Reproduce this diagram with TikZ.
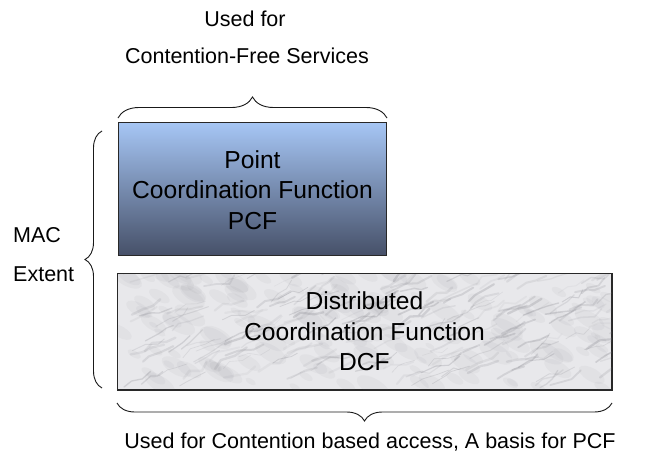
\documentclass[tikz,border=0pt]{standalone}
\usepackage{fontspec}
\setmainfont{Liberation Sans}
\usetikzlibrary{decorations.pathreplacing}
\definecolor{pcftop}{RGB}{166,198,245}
\definecolor{pcfbot}{RGB}{70,80,104}
\definecolor{edge}{RGB}{40,40,40}
\definecolor{marble}{RGB}{232,232,235}
\definecolor{vein}{RGB}{120,120,128}
\begin{document}
\begin{tikzpicture}[x=1pt,y=-1pt,
  txt/.style={font=\fontsize{21.5}{30.5}\selectfont, align=center, inner sep=0pt},
  boxtxt/.style={font=\fontsize{24.6}{30.5}\selectfont, align=center, inner sep=0pt},
  boxbase/.style={draw=edge, line width=1pt, inner sep=0pt, anchor=north west},
  pcfbox/.style={boxbase, top color=pcftop, bottom color=pcfbot},
  dcfbox/.style={boxbase, fill=marble},
  curly/.style={decorate, decoration={brace, amplitude=#1}, draw=black!90, line width=0.9pt},
]
\useasboundingbox (0,0) rectangle (645,455);
\fill[white] (0,0) rectangle (645,455);

% the two coordination function layers
\node[pcfbox, minimum width=268pt, minimum height=133pt] (pcf) at (118,122) {};
\node[dcfbox, minimum width=494pt, minimum height=116pt] (dcf) at (117,273) {};

% marble texture of the DCF layer
\begin{scope}
  \clip (dcf.south west) rectangle (dcf.north east);
  \pgfmathsetseed{42}
  \foreach \k in {1,...,160}{
    \pgfmathsetmacro{\px}{117+rnd*494}
    \pgfmathsetmacro{\py}{273+rnd*116}
    \pgfmathsetmacro{\rr}{5+rnd*14}
    \fill[vein, opacity=0.06, rotate around={-30:(\px,\py)}] (\px,\py) ellipse [x radius=\rr pt, y radius=0.45*\rr pt];
  }
  \foreach \k in {1,...,200}{
    \pgfmathsetmacro{\px}{117+rnd*494}
    \pgfmathsetmacro{\py}{273+rnd*116}
    \pgfmathsetmacro{\ax}{5+rnd*10}
    \pgfmathsetmacro{\ay}{-(2+rnd*7)}
    \pgfmathsetmacro{\bx}{5+rnd*10}
    \pgfmathsetmacro{\by}{-(rnd*8)+2}
    \pgfmathsetmacro{\cx}{4+rnd*10}
    \pgfmathsetmacro{\cy}{-(2+rnd*7)}
    \pgfmathsetmacro{\op}{0.06+rnd*0.18}
    \pgfmathsetmacro{\lw}{0.6+rnd*1.8}
    \draw[vein, opacity=\op, line width=\lw pt, line cap=round, line join=round]
      (\px,\py) -- ++(\ax,\ay) -- ++(\bx,\by) -- ++(\cx,\cy);
  }
\end{scope}
\draw[edge, line width=1pt] (dcf.south west) rectangle (dcf.north east);

% layer captions
\node[boxtxt] (pcftext) at ([yshift=-1pt]pcf.center) {Point\\Coordination Function\\PCF};
\node[boxtxt] (dcftext) at (dcf.center) {Distributed\\Coordination Function\\DCF};

% top brace and its note
\draw[curly=21pt] ([yshift=4pt]pcf.north west) -- ([yshift=4pt]pcf.north east);
\node[txt, anchor=base] (cfuse1) at (245,27) {Used for};
\node[txt, anchor=base] (cfuse2) at (247,63) {Contention-Free Services};

% left brace: MAC extent
\coordinate (lbbot) at (102,388);
\coordinate (lbtop) at (102,131);
\draw[curly=17pt] (lbbot) -- (lbtop);
\node[txt, anchor=base west] (mac) at (13,242) {MAC};
\node[txt, anchor=base west] (extent) at (13,281) {Extent};

% bottom brace and its note
\draw[curly=18pt] ([yshift=-13pt]dcf.south east) -- ([yshift=-13pt]dcf.south west);
\node[txt, anchor=base] (dcfuse) at (370,448) {Used for Contention based access, A basis for PCF};
\end{tikzpicture}
\end{document}
